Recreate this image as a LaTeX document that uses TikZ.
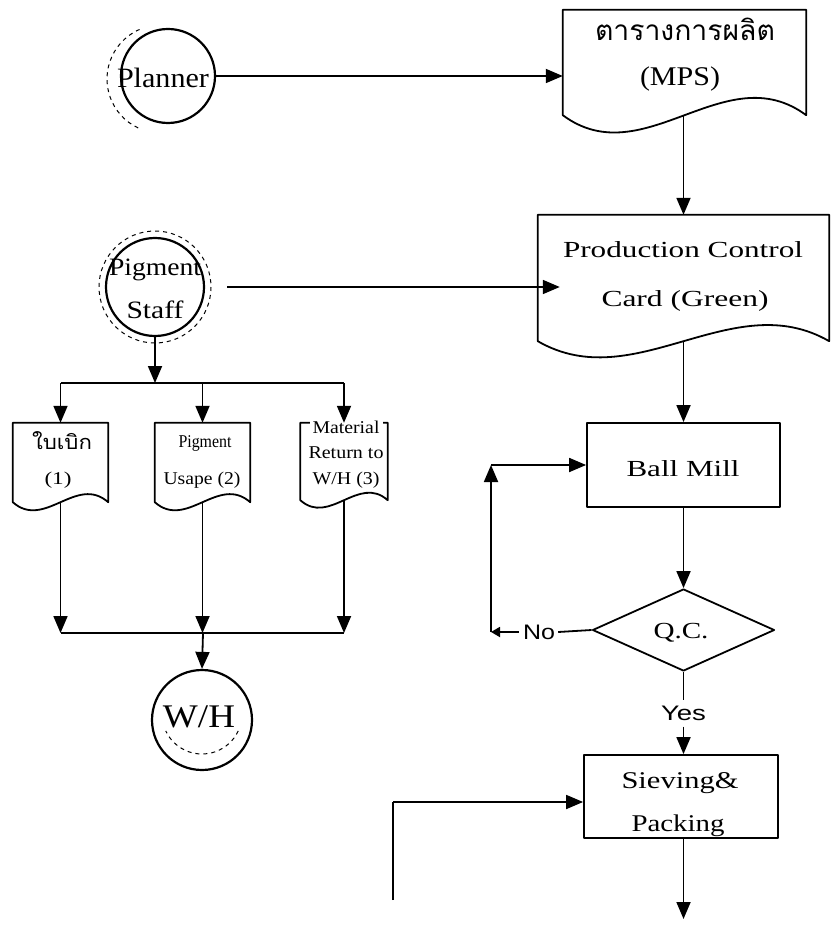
\documentclass[tikz,border=0pt]{standalone}
\usepackage{fontspec}
\usepackage{graphicx}
\setmainfont{Liberation Serif}
\newfontfamily\thaifont[Script=Thai]{Loma}
\newfontfamily\labelsans{Liberation Sans}
\usetikzlibrary{arrows.meta,shapes.geometric,calc}

% stretch a text horizontally to a given width (pt), keeping its height
\newcommand{\fitw}[2]{\resizebox{#1pt}{\height}{#2}}
\newcommand{\fsz}[1]{\fontsize{#1}{#1}\selectfont}

% document outline drawn around an invisible frame node: #1 name, #2 wave amplitude
\newcommand{\docpath}[2]{%
  \draw[ln] (#1.south west) -- (#1.north west) -- (#1.north east) -- (#1.south east)
    .. controls ($(#1.south east)!0.333!(#1.south west)+(0,-#2)$)
       and ($(#1.south east)!0.667!(#1.south west)+(0,#2)$) .. (#1.south west) -- cycle;
}

\tikzset{
  ln/.style={line width=1.8pt, line join=round},
  arr/.style={ln, -{Triangle[length=17pt,width=14pt]}},
  smallarr/.style={ln, -{Triangle[length=9pt,width=10pt]}},
  boxnode/.style={draw, ln, rectangle, inner sep=0pt},
  framenode/.style={rectangle, inner sep=0pt},
  circnode/.style={draw, line width=2.2pt, circle, inner sep=0pt},
  txt/.style={inner sep=0pt, anchor=center},
  halo/.style={line width=1pt, dash pattern=on 4pt off 4pt},
}

\begin{document}
\begin{tikzpicture}[x=1pt,y=-1pt]
\useasboundingbox (0,0) rectangle (831,925);

% ---------- left column: people and forms ----------
\node[circnode, minimum size=94] (planner) at (168,76) {};
\node[txt, font=\fsz{28}] (plannerT) at (163,78) {\fitw{92}{Planner}};
\draw[halo] ([shift={(-7,3)}]planner.center) ++(115:54) arc[start angle=115, end angle=250, radius=54];

\node[circnode, minimum size=98] (ps) at (155,287) {};
\node[txt, font=\fsz{25}] (psT1) at (155,270) {\fitw{92}{Pigment}};
\node[txt, font=\fsz{25}] (psT2) at (155,310) {\fitw{57}{Staff}};
\draw[halo] (ps.center) circle[radius=56];

\node[circnode, minimum size=100] (wh) at (202,720) {};
\node[txt, font=\fsz{33}] (whT) at (199,717) {\fitw{72}{W/H}};
\draw[halo] ([shift={(0,-6)}]wh.center) ++(25:40) arc[start angle=25, end angle=155, radius=40];

% three forms
\node[framenode, minimum width=95, minimum height=79] (d1) at (60.5,462.5) {};
\node[framenode, minimum width=95, minimum height=79] (d2) at (202.5,462.5) {};
\node[framenode, minimum width=87, minimum height=77] (d3) at (344,461.5) {};
\docpath{d1}{28}
\docpath{d2}{28}
\docpath{d3}{26}
\node[txt, font=\thaifont\fsz{20}] (d1T1) at (62,441) {\fitw{60}{ใบเบิก}};
\node[txt, font=\fsz{18}] (d1T2) at (58,480) {\fitw{27}{(1)}};
\node[txt, font=\fsz{18}] (d2T1) at (205,443) {\fitw{53}{Pigment}};
\node[txt, font=\fsz{18}] (d2T2) at (202,480) {\fitw{77}{Usape (2)}};
\node[txt, font=\fsz{18}, fill=white, inner xsep=3pt] (d3T1) at (346,427) {\fitw{67}{Material}};
\node[txt, font=\fsz{18}] (d3T2) at (346,453) {\fitw{75}{Return to}};
\node[txt, font=\fsz{18}] (d3T3) at (346,480) {\fitw{67}{W/H (3)}};

% ---------- right column: production flow ----------
\node[framenode, minimum width=243, minimum height=105] (mps) at (684.5,62.5) {};
\docpath{mps}{60}
\node[txt, font=\thaifont\fsz{28}] (mpsT1) at (685,29) {\fitw{180}{ตารางการผลิต}};
\node[txt, font=\fsz{27}] (mpsT2) at (680,79) {\fitw{80}{(MPS)}};

\node[framenode, minimum width=291, minimum height=126] (card) at (683.5,278) {};
\docpath{card}{56}
\node[txt, font=\fsz{23}] (cardT1) at (683,250) {\fitw{240}{Production Control}};
\node[txt, font=\fsz{23}] (cardT2) at (685,301) {\fitw{167}{Card (Green)}};

\node[boxnode, minimum width=193, minimum height=84] (bm) at (683.5,465) {};
\node[txt, font=\fsz{23}] (bmT) at (683,469) {\fitw{113}{Ball Mill}};

\node[draw, ln, diamond, inner sep=0pt, minimum width=182, minimum height=82] (qc) at (683.5,630) {};
\node[txt, font=\fsz{23}] (qcT) at (681,633) {\fitw{55}{Q.C.}};

\node[txt, font=\labelsans\fsz{21}] (no) at (539,632) {\fitw{32}{No}};
\node[txt, font=\labelsans\fsz{21}] (yes) at (683.5,713) {\fitw{45}{Yes}};

\node[boxnode, minimum width=194, minimum height=83] (sp) at (681,796.5) {};
\node[txt, font=\fsz{24}] (spT1) at (680,783) {\fitw{117}{Sieving\&}};
\node[txt, font=\fsz{24}] (spT2) at (678,826) {\fitw{93}{Packing}};

% ---------- junction points ----------
\coordinate (topbar) at (155,383);
\coordinate (botbar) at (203,633);
\coordinate (loopL) at (491,632);
\coordinate (loopT) at (491,465);
\coordinate (feedS) at (393,900);
\coordinate (feedT) at (393,802);
\coordinate (outE) at (683.5,919);

% ---------- connectors ----------
\draw[arr] (planner.east) -- (planner.east -| mps.west);
\draw[arr] (mps.south -| card.north) -- (card.north);
\draw[arr] ([xshift=22pt]ps.east) -- ([xshift=22pt]ps.east -| card.west);

\draw[arr] (ps.south) -- (topbar);
\draw[ln] (topbar -| d1.north) -- (topbar -| d3.north);
\draw[arr] (topbar -| d1.north) -- (d1.north);
\draw[arr] (topbar -| d2.north) -- (d2.north);
\draw[arr] (topbar -| d3.north) -- (d3.north);

\draw[arr] (d1.south) -- (d1.south |- botbar);
\draw[arr] (d2.south) -- (d2.south |- botbar);
\draw[arr] (d3.south) -- (d3.south |- botbar);
\draw[ln] (d1.south |- botbar) -- (d3.south |- botbar);
\draw[arr] (botbar) -- (wh.north);

\draw[arr] (card.south) -- (bm.north);
\draw[arr] (bm.south) -- (qc.north);
\draw[ln] (qc.west) -- ([xshift=3pt]no.east);
\draw[smallarr] ([xshift=-4pt]no.west) -- (loopL);
\draw[arr] (loopL) -- (loopT);
\draw[arr] (loopT) -- (bm.west);
\draw[ln] (qc.south) -- ([yshift=5pt]yes.north);
\draw[arr] ([yshift=-6pt]yes.south) -- (yes.south |- sp.north);
\draw[arr] (sp.south -| outE) -- (outE);
\draw[ln] (feedS) -- (feedT);
\draw[arr] (feedT) -- (feedT -| sp.west);
\end{tikzpicture}
\end{document}
